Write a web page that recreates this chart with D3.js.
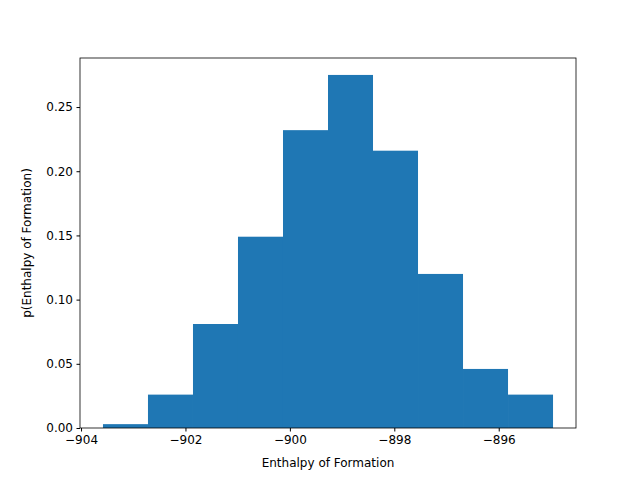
<!DOCTYPE html><html><head><script src="https://cdn.jsdelivr.net/npm/d3@7"></script>
<style>body{margin:0;background:#fff}text{font-family:"DejaVu Sans"}</style></head><body>
<script>
const binStart=-903.58, binWidth=0.862;
const heights=[0.003,0.026,0.081,0.149,0.232,0.275,0.216,0.120,0.046,0.026];
const xTicks=[-904,-902,-900,-898,-896];
const yTicks=[0,0.05,0.10,0.15,0.20,0.25];
const W=640,H=480,L=80,R=576,T=58,B=428;
const svg=d3.select("body").append("svg").attr("width",W).attr("height",H);
const x=d3.scaleLinear().domain([-904.02,-894.52]).range([L,R]);
const y=d3.scaleLinear().domain([0,0.2882]).range([B,T]);
svg.selectAll("rect.b").data(heights).enter().append("rect")
 .attr("x",(d,i)=>x(binStart+i*binWidth)).attr("width",(d,i)=>x(binStart+(i+1)*binWidth)-x(binStart+i*binWidth))
 .attr("y",d=>y(d)).attr("height",d=>B-y(d)).attr("fill","#1f77b4");
const fmt=v=>(v<0?"\u2212":"")+Math.abs(v);
svg.append("g").attr("transform",`translate(0,${B})`).call(d3.axisBottom(x).tickValues(xTicks).tickFormat(fmt).tickSizeOuter(0).tickSize(3.5).tickPadding(3.5))
 .call(g=>{g.select(".domain").remove();g.selectAll("text").attr("font-size",10*1.2+"px").attr("font-family","DejaVu Sans");});
svg.append("g").attr("transform",`translate(${L},0)`).call(d3.axisLeft(y).tickValues(yTicks).tickFormat(d3.format(".2f")).tickSize(3.5).tickPadding(3.5))
 .call(g=>{g.select(".domain").remove();g.selectAll("text").attr("font-size","12px").attr("font-family","DejaVu Sans");});
svg.append("rect").attr("x",L).attr("y",T).attr("width",R-L).attr("height",B-T).attr("fill","none").attr("stroke","#000").attr("stroke-width",0.8);
svg.append("text").attr("x",(L+R)/2).attr("y",467).attr("text-anchor","middle").attr("font-size","12px").text("Enthalpy of Formation");
svg.append("text").attr("transform",`translate(31,${(T+B)/2}) rotate(-90)`).attr("text-anchor","middle").attr("font-size","12px").text("p(Enthalpy of Formation)");
</script></body></html>
